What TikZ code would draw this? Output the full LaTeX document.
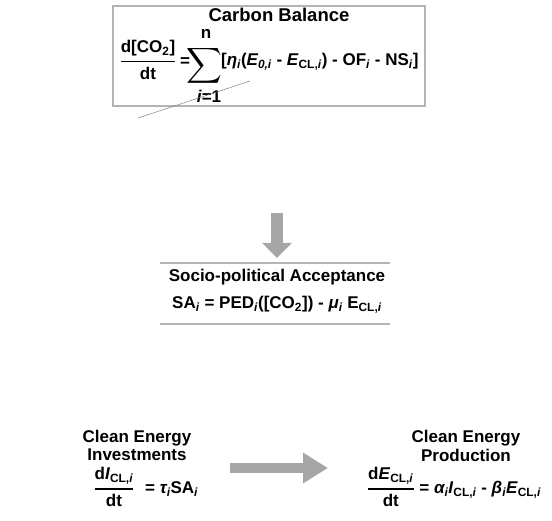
\documentclass[tikz,border=0pt]{standalone}
\usepackage{amsmath}
\usepackage{fontspec}
\setmainfont{Liberation Sans}
\usepackage{tikz}
\usetikzlibrary{arrows.meta}
\definecolor{arrowgray}{HTML}{A6A6A6}
\definecolor{framegray}{HTML}{B4B4B4}
\tikzstyle{txt} = [inner sep=0pt, font=\fontsize{17}{20}\selectfont\bfseries]
\tikzstyle{bigtxt} = [inner sep=0pt, font=\fontsize{18.5}{22}\selectfont\bfseries]
\tikzstyle{sumsign} = [inner sep=0pt, font=\fontsize{28}{30}\selectfont]
\tikzstyle{frameline} = [draw=framegray, line width=1.5pt]
\tikzstyle{downarrow} = [draw=arrowgray, line width=12pt, -{Triangle[width=29pt,length=15pt]}]
\tikzstyle{rightarrow} = [draw=arrowgray, line width=10pt, -{Triangle[width=29pt,length=25pt]}]
\newcommand{\sub}[1]{\textsubscript{#1}}
\newcommand{\frc}[2]{$\genfrac{}{}{1.5pt}{0}{\hbox{#1}}{\hbox{#2}}$}

\begin{document}
\begin{tikzpicture}[x=1pt,y=-1pt]
	\useasboundingbox (0,0) rectangle (552,521);
	% carbon balance
	\draw[frameline] (113,6) rectangle (425,106);
	\node[bigtxt] (cbtitle) at (279,15) {Carbon Balance};
	\node[txt] (cbfrac) at (148,60) {\frc{d[CO\sub{2}]}{dt}};
	\node[txt] (cbeq) at (185,62) {=};
	\node[sumsign] (cbsum) at (204,66) {$\displaystyle\sum$};
	\node[txt] (cbtop) at (206,34) {n};
	\node[txt] (cbbot) at (209,96) {\textit{i}=1};
	\node[txt,anchor=west] (cbrhs) at (221,62)
		{[\textit{η\sub{i}}(\textit{E\sub{0,i}} - \textit{E}\sub{CL,\textit{i}}) - OF\sub{\textit{i}} - NS\sub{\textit{i}}]};
	\coordinate (tailA) at (138,118);
	\coordinate (tailB) at (250,81);
	\draw[gray,line width=0.5pt] (tailA) -- (tailB);
	% socio-political acceptance
	\coordinate (dnstart) at (277,213);
	\coordinate (dnend) at (277,258);
	\draw[downarrow] (dnstart) -- (dnend);
	\draw[frameline] (160,263) -- (390,263);
	\draw[frameline] (160,324) -- (390,324);
	\node[txt] (satitle) at (277,277) {Socio-political Acceptance};
	\node[txt] (saform) at (277,305)
		{SA\sub{\textit{i}} = PED\sub{\textit{i}}([CO\sub{2}]) - \textit{μ\sub{i}} E\sub{CL,\textit{i}}};
	% clean energy
	\node[txt] (invtitle) at (137,438) {Clean Energy};
	\node[txt] (invsub) at (137,455) {Investments};
	\node[txt] (invfrac) at (114,487) {\frc{d\textit{I}\sub{CL,\textit{i}}}{dt}};
	\node[txt,anchor=west] (invrhs) at (145,489) {= \textit{τ\sub{i}}SA\sub{\textit{i}}};
	\coordinate (rtstart) at (230,468);
	\coordinate (rtend) at (328,468);
	\draw[rightarrow] (rtstart) -- (rtend);
	\node[txt] (prodtitle) at (466,438) {Clean Energy};
	\node[txt] (prodsub) at (466,455) {Production};
	\node[txt] (prodform) at (454,487)
		{\frc{d\textit{E}\sub{CL,\textit{i}}}{dt} = \textit{α\sub{i}I}\sub{CL,\textit{i}} - \textit{β\sub{i}E}\sub{CL,\textit{i}}};
\end{tikzpicture}
\end{document}
